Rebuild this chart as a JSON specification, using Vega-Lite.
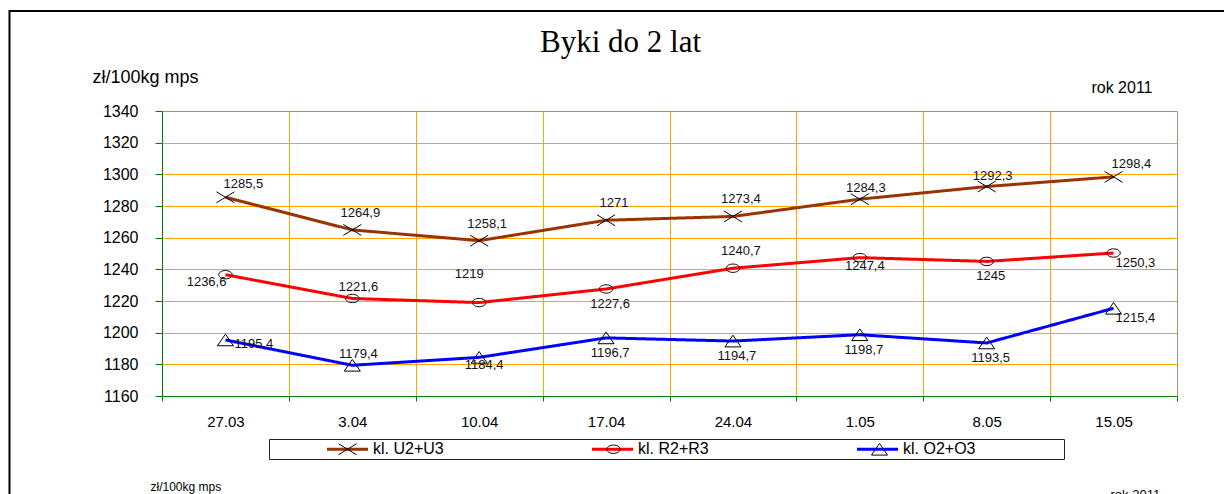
{
  "$schema": "https://vega.github.io/schema/vega-lite/v6.json",
  "autosize": "none",
  "width": 1015,
  "height": 285,
  "padding": {"left": 162, "top": 111, "right": 47, "bottom": 98},
  "background": "white",
  "data": {"values": [
    {"klasa": "kl. U2+U3", "data": "27.03", "cena": 1285.5},
    {"klasa": "kl. U2+U3", "data": "3.04", "cena": 1264.9},
    {"klasa": "kl. U2+U3", "data": "10.04", "cena": 1258.1},
    {"klasa": "kl. U2+U3", "data": "17.04", "cena": 1271},
    {"klasa": "kl. U2+U3", "data": "24.04", "cena": 1273.4},
    {"klasa": "kl. U2+U3", "data": "1.05", "cena": 1284.3},
    {"klasa": "kl. U2+U3", "data": "8.05", "cena": 1292.3},
    {"klasa": "kl. U2+U3", "data": "15.05", "cena": 1298.4},
    {"klasa": "kl. R2+R3", "data": "27.03", "cena": 1236.6},
    {"klasa": "kl. R2+R3", "data": "3.04", "cena": 1221.6},
    {"klasa": "kl. R2+R3", "data": "10.04", "cena": 1219},
    {"klasa": "kl. R2+R3", "data": "17.04", "cena": 1227.6},
    {"klasa": "kl. R2+R3", "data": "24.04", "cena": 1240.7},
    {"klasa": "kl. R2+R3", "data": "1.05", "cena": 1247.4},
    {"klasa": "kl. R2+R3", "data": "8.05", "cena": 1245},
    {"klasa": "kl. R2+R3", "data": "15.05", "cena": 1250.3},
    {"klasa": "kl. O2+O3", "data": "27.03", "cena": 1195.4},
    {"klasa": "kl. O2+O3", "data": "3.04", "cena": 1179.4},
    {"klasa": "kl. O2+O3", "data": "10.04", "cena": 1184.4},
    {"klasa": "kl. O2+O3", "data": "17.04", "cena": 1196.7},
    {"klasa": "kl. O2+O3", "data": "24.04", "cena": 1194.7},
    {"klasa": "kl. O2+O3", "data": "1.05", "cena": 1198.7},
    {"klasa": "kl. O2+O3", "data": "8.05", "cena": 1193.5},
    {"klasa": "kl. O2+O3", "data": "15.05", "cena": 1215.4}
  ]},
  "encoding": {
    "x": {"field": "data", "type": "ordinal", "sort": ["27.03","3.04","10.04","17.04","24.04","1.05","8.05","15.05"], "scale": {"type": "band", "paddingInner": 0, "paddingOuter": 0}, "axis": null},
    "y": {"field": "cena", "type": "quantitative", "scale": {"domain": [1160, 1340], "nice": false, "zero": false}, "axis": null}
  },
  "layer": [
    {
      "mark": {"type": "line", "strokeWidth": 3},
      "encoding": {
        "x": {"field": "data", "type": "ordinal", "sort": ["27.03","3.04","10.04","17.04","24.04","1.05","8.05","15.05"], "axis": {
          "orient": "bottom", "title": "zł/100kg mps", "titleX": -12, "titleY": 90, "titleAlign": "left", "titleBaseline": "middle", "titleAngle": 0, "titleFontSize": 12, "titleFontWeight": "normal", "titleColor": "black", "titleFont": "Liberation Sans",
          "labelAngle": 0, "labelFontSize": 15, "labelColor": "black", "labelFont": "Liberation Sans", "labelPadding": 13, "labelBaseline": "top",
          "tickBand": "extent", "ticks": true, "tickSize": 5, "tickColor": "#008000", "domainColor": "#008000",
          "grid": true, "gridColor": {"condition": {"test": "datum.extra || datum.value === '15.05'", "value": "transparent"}, "value": "#FFA500"}
        }},
        "y": {"field": "cena", "type": "quantitative", "axis": {
          "orient": "left", "values": [1160,1180,1200,1220,1240,1260,1280,1300,1320,1340], "format": "d",
          "title": "zł/100kg mps", "titleAngle": 0, "titleX": -70, "titleY": -34, "titleAlign": "left", "titleBaseline": "middle", "titleFontSize": 18, "titleFontWeight": "normal", "titleColor": "black", "titleFont": "Liberation Sans",
          "labelFontSize": 16, "labelColor": "black", "labelFont": "Liberation Sans", "labelPadding": 17,
          "tickSize": 7, "tickColor": "#008000", "domainColor": "#008000",
          "grid": true, "gridColor": {"condition": {"test": "datum.value === 1340 || datum.value === 1160", "value": "transparent"}, "value": "#FFA500"}
        }},
        "color": {"field": "klasa", "type": "nominal", "sort": ["kl. U2+U3","kl. R2+R3","kl. O2+O3"], "scale": {"range": ["#993300","#FF0000","#0000FF"]},
          "legend": {"orient": "none", "legendX": 163, "legendY": 326.5, "direction": "horizontal", "title": null, "symbolType": "M-2.05,0L2.05,0", "symbolSize": 400, "symbolStrokeWidth": 3, "symbolOffset": 11, "labelOffset": 14, "labelFontSize": 16, "labelFont": "Liberation Sans", "labelColor": "black", "labelLimit": 300, "columnPadding": 142, "padding": 0}},
        "strokeDash": {"field": "klasa", "type": "nominal", "sort": "descending", "scale": {"range": [[1,0],[1,0],[1,0]]},
          "legend": {"orient": "none", "legendX": 107, "legendY": 328, "direction": "horizontal", "title": " ", "titleOrient": "right", "titlePadding": 651, "titleFontSize": 1, "symbolType": "M-2.05,0L2.05,0", "symbolSize": 400, "symbolStrokeWidth": 3, "symbolOffset": 11, "labelOffset": 14, "labelFontSize": 16, "labelFont": "Liberation Sans", "labelExpr": "''", "columnPadding": 0, "padding": 0, "symbolOpacity": 0, "labelOpacity": 0, "strokeColor": "#222222"}},
        "opacity": {"field": "klasa", "type": "ordinal", "scale": {"range": [1, 1, 1]},
          "legend": {"orient": "none", "legendX": -152.5, "legendY": -100, "direction": "vertical", "title": " ", "titleOrient": "right", "titlePadding": 1300, "titleFontSize": 1, "symbolType": "circle", "symbolSize": 0, "symbolStrokeWidth": 0, "symbolStrokeColor": "transparent", "symbolFillColor": "transparent", "labelExpr": "''", "labelOpacity": 0, "rowPadding": 250, "padding": 0, "strokeColor": "#000000",
            "encode": {"legend": {"update": {"strokeWidth": {"value": 2}}}, "symbols": {"update": {"stroke": {"value": "transparent"}, "fill": {"value": "transparent"}}}}}}
      }
    },
    {
      "mark": {"type": "point", "filled": false, "stroke": "black", "strokeWidth": 1, "size": 484, "opacity": 1},
      "encoding": {
        "x": {"field": "data", "type": "ordinal", "sort": ["27.03","3.04","10.04","17.04","24.04","1.05","8.05","15.05"], "axis": {
          "orient": "top", "domain": false, "ticks": false, "labels": false, "grid": false,
          "title": "rok 2011", "titleX": 948, "titleY": 383, "titleAlign": "left", "titleBaseline": "middle", "titleAngle": 0, "titleFontSize": 13, "titleFontWeight": "normal", "titleColor": "black", "titleFont": "Liberation Sans"
        }},
        "y": {"field": "cena", "type": "quantitative", "axis": {
          "orient": "right", "domain": false, "ticks": false, "labels": false, "grid": false,
          "title": "rok 2011", "titleX": -25, "titleY": -24, "titleAlign": "right", "titleBaseline": "middle", "titleAngle": 0, "titleFontSize": 16, "titleFontWeight": "normal", "titleColor": "black", "titleFont": "Liberation Sans"
        }},
        "shape": {"field": "klasa", "type": "nominal", "scale": {"domain": ["kl. U2+U3","kl. R2+R3","kl. O2+O3"], "range": ["M-0.82,-0.5L0.82,0.5M-0.82,0.5L0.82,-0.5", "M0.61,0A0.61,0.38 0 1,1 -0.61,0A0.61,0.38 0 1,1 0.61,0Z", "M0,-0.53L0.73,0.53L-0.73,0.53Z"]},
          "legend": {"orient": "none", "legendX": 163, "legendY": 326.5, "direction": "horizontal", "title": null, "symbolSize": 484, "symbolStrokeWidth": 1, "symbolStrokeColor": "black", "symbolFillColor": "transparent", "symbolOffset": 11, "labelOffset": 14, "labelFontSize": 16, "labelFont": "Liberation Sans", "labelExpr": "''", "labelOpacity": 0, "columnPadding": 218, "padding": 0}}
      }
    },
    {
      "transform": [{"filter": "(datum.klasa === 'kl. U2+U3' && indexof(['3.04','10.04','17.04','24.04'], datum.data) >= 0) || (datum.klasa === 'kl. R2+R3' && datum.data === '24.04')"}],
      "mark": {"type": "text", "align": "center", "baseline": "middle", "dx": 8, "dy": -17, "fontSize": 13, "font": "Liberation Sans", "color": "#111111"},
      "encoding": {
        "x": {"field": "data", "type": "ordinal", "sort": ["27.03","3.04","10.04","17.04","24.04","1.05","8.05","15.05"], "axis": {
          "orient": "top", "domain": false, "ticks": false, "labels": false, "grid": false,
          "title": "Byki do 2 lat", "titleX": 458, "titleY": -60, "titleAlign": "center", "titleBaseline": "alphabetic", "titleAngle": 0, "titleFont": "Liberation Serif", "titleFontSize": 31, "titleFontWeight": "normal", "titleColor": "black"
        }},
        "text": {"field": "cena", "type": "quantitative", "format": ".1~f"}
      }
    },
    {
      "transform": [{"filter": "(datum.klasa === 'kl. U2+U3' && indexof(['1.05','8.05'], datum.data) >= 0) || (datum.data === '3.04' && datum.klasa !== 'kl. U2+U3')"}],
      "mark": {"type": "text", "align": "center", "baseline": "middle", "dx": 6, "dy": -11, "fontSize": 13, "font": "Liberation Sans", "color": "#111111"},
      "encoding": {"text": {"field": "cena", "type": "quantitative", "format": ".1~f"}}
    },
    {
      "transform": [{"filter": "datum.klasa === 'kl. U2+U3' && (datum.data === '27.03' || datum.data === '15.05')"}],
      "mark": {"type": "text", "align": "left", "baseline": "middle", "dx": -2, "dy": -13, "fontSize": 13, "font": "Liberation Sans", "color": "#111111"},
      "encoding": {"text": {"field": "cena", "type": "quantitative", "format": ".1~f"}}
    },
    {
      "transform": [{"filter": "(datum.klasa === 'kl. R2+R3' && datum.data === '1.05') || (datum.klasa === 'kl. O2+O3' && datum.data === '10.04')"}],
      "mark": {"type": "text", "align": "center", "baseline": "middle", "dx": 5, "dy": 8, "fontSize": 13, "font": "Liberation Sans", "color": "#111111"},
      "encoding": {"text": {"field": "cena", "type": "quantitative", "format": ".1~f"}}
    },
    {
      "transform": [{"filter": "(datum.klasa === 'kl. R2+R3' && indexof(['17.04','8.05'], datum.data) >= 0) || (datum.klasa === 'kl. O2+O3' && indexof(['17.04','24.04','1.05','8.05'], datum.data) >= 0)"}],
      "mark": {"type": "text", "align": "center", "baseline": "middle", "dx": 4, "dy": 15, "fontSize": 13, "font": "Liberation Sans", "color": "#111111"},
      "encoding": {"text": {"field": "cena", "type": "quantitative", "format": ".1~f"}}
    },
    {
      "transform": [{"filter": "datum.klasa !== 'kl. U2+U3' && datum.data === '15.05'"}],
      "mark": {"type": "text", "align": "left", "baseline": "middle", "dx": 2, "dy": 10, "fontSize": 13, "font": "Liberation Sans", "color": "#111111"},
      "encoding": {"text": {"field": "cena", "type": "quantitative", "format": ".1~f"}}
    },
    {
      "transform": [{"filter": "datum.klasa === 'kl. R2+R3' && datum.data === '27.03'"}],
      "mark": {"type": "text", "align": "right", "baseline": "middle", "dx": 1, "dy": 7, "fontSize": 13, "font": "Liberation Sans", "color": "#111111"},
      "encoding": {"text": {"field": "cena", "type": "quantitative", "format": ".1~f"}}
    },
    {
      "transform": [{"filter": "datum.klasa === 'kl. O2+O3' && datum.data === '27.03'"}],
      "mark": {"type": "text", "align": "left", "baseline": "middle", "dx": 9, "dy": 4, "fontSize": 13, "font": "Liberation Sans", "color": "#111111"},
      "encoding": {"text": {"field": "cena", "type": "quantitative", "format": ".1~f"}}
    },
    {
      "transform": [{"filter": "datum.klasa === 'kl. R2+R3' && datum.data === '10.04'"}],
      "mark": {"type": "text", "align": "center", "baseline": "middle", "dx": -10, "dy": -29, "fontSize": 13, "font": "Liberation Sans", "color": "#111111"},
      "encoding": {"text": {"field": "cena", "type": "quantitative", "format": ".1~f"}}
    }
  ],
  "resolve": {"axis": {"x": "independent", "y": "independent"}},
  "config": {
    "view": {"stroke": "#A39171", "strokeWidth": 1},
    "font": "Liberation Sans",
    "locale": {"number": {"decimal": ",", "thousands": " ", "grouping": [3], "currency": ["", ""]}}
  }
}
